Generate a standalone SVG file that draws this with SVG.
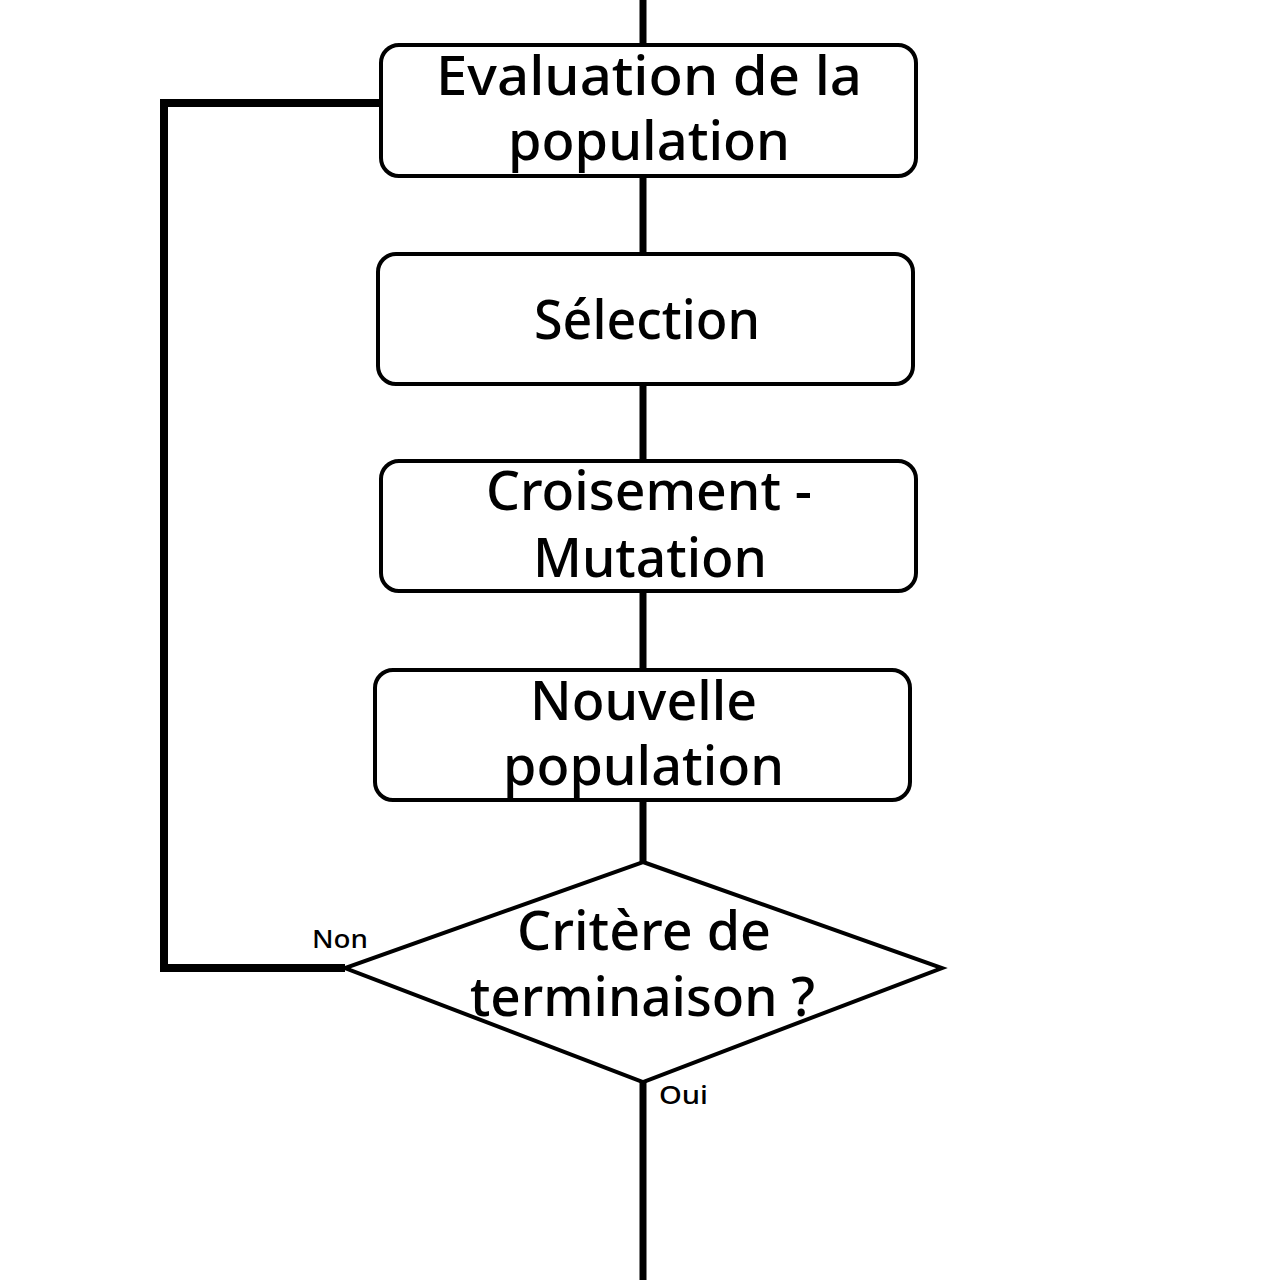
<svg xmlns="http://www.w3.org/2000/svg" width="1280" height="1280" viewBox="0 0 1280 1280">
<style>
.box{fill:#fff;stroke:#000;stroke-width:4}
.t{font-family:"Noto Sans","Open Sans",sans-serif;font-size:54px;fill:#000;text-anchor:middle;font-weight:500}
.s{font-family:"Noto Sans","Open Sans",sans-serif;font-size:25px;fill:#000;font-weight:500}
.ln{stroke:#000;fill:none}
</style>
<rect width="1280" height="1280" fill="#fff"/>
<g id="connectors">
<line class="ln" x1="643" y1="0" x2="643" y2="1280" stroke-width="7"/>
<polyline class="ln" points="381,103 164,103 164,968 345,968" stroke-width="8"/>
</g>
<g id="n1"><rect class="box" x="381" y="45" width="535" height="131" rx="18"/>
<text class="t" x="649" y="95" textLength="426" lengthAdjust="spacingAndGlyphs">Evaluation de la</text>
<text class="t" x="649" y="160" textLength="282" lengthAdjust="spacingAndGlyphs">population</text></g>
<g id="n2"><rect class="box" x="378" y="254" width="535" height="130" rx="18"/>
<text class="t" x="647" y="339" textLength="226" lengthAdjust="spacingAndGlyphs">Sélection</text></g>
<g id="n3"><rect class="box" x="381" y="461" width="535" height="130" rx="18"/>
<text class="t" x="649" y="510" textLength="326" lengthAdjust="spacingAndGlyphs">Croisement -</text>
<text class="t" x="650" y="577" textLength="234" lengthAdjust="spacingAndGlyphs">Mutation</text></g>
<g id="n4"><rect class="box" x="375" y="670" width="535" height="130" rx="18"/>
<text class="t" x="643.5" y="720" textLength="227" lengthAdjust="spacingAndGlyphs">Nouvelle</text>
<text class="t" x="643.5" y="785" textLength="281" lengthAdjust="spacingAndGlyphs">population</text></g>
<g id="n5"><polygon class="box" points="643,862 942,968 643,1082 345,968"/>
<text class="t" x="644" y="950" textLength="254" lengthAdjust="spacingAndGlyphs">Critère de</text>
<text class="t" x="642.5" y="1016" textLength="345" lengthAdjust="spacingAndGlyphs">terminaison ?</text></g>
<g id="labels">
<text class="s" x="312" y="948" textLength="56" lengthAdjust="spacingAndGlyphs">Non</text>
<text class="s" x="659" y="1104" textLength="49" lengthAdjust="spacingAndGlyphs">Oui</text>
</g>
</svg>
